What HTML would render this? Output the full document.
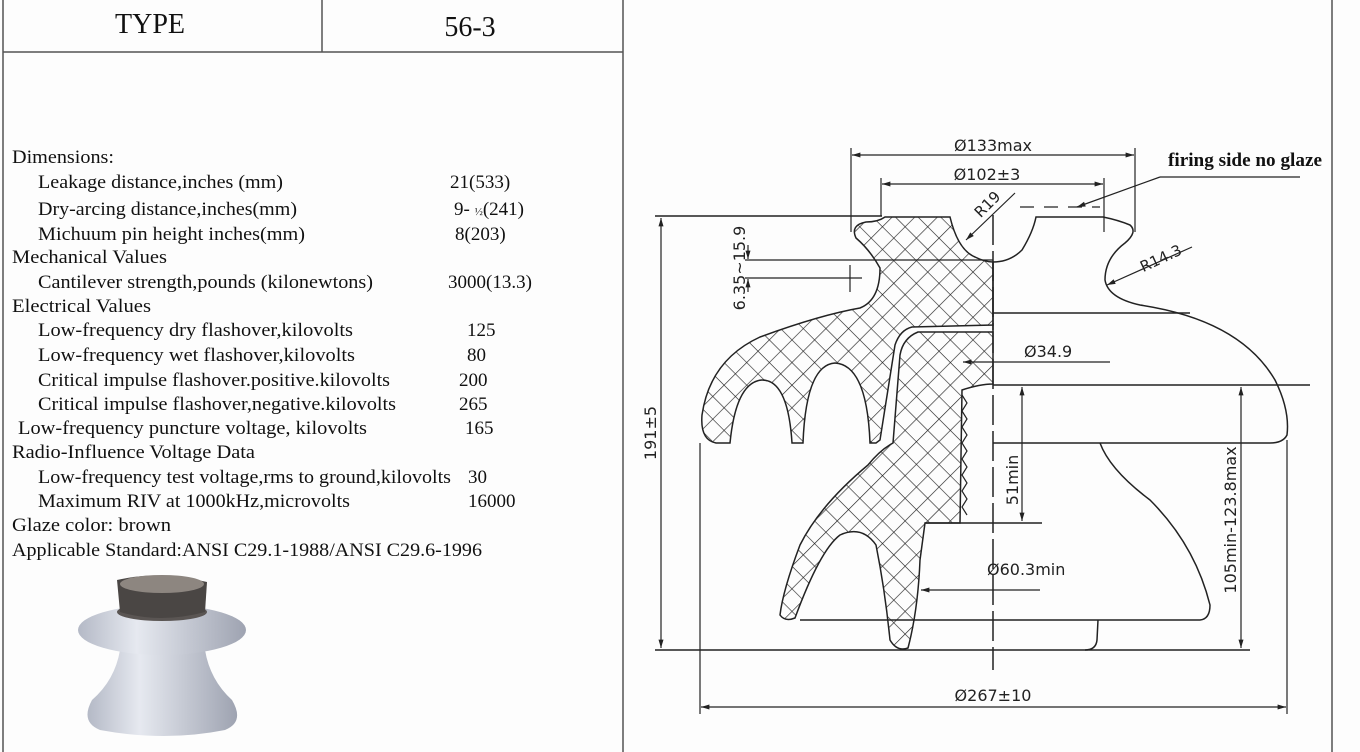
<!DOCTYPE html>
<html><head><meta charset="utf-8"><style>
html,body{margin:0;padding:0;background:#fdfdfd;}
svg{display:block;}
.t{font-family:"Liberation Serif",serif;fill:#111;}
.d{font-family:"DejaVu Sans","Liberation Sans",sans-serif;font-size:16px;fill:#222;}
</style></head><body>
<svg width="1360" height="752" viewBox="0 0 1360 752" xmlns="http://www.w3.org/2000/svg">
<defs>
<pattern id="h" width="16" height="16" patternUnits="userSpaceOnUse" patternTransform="rotate(45)">
<path d="M0 0H16M0 0V16" stroke="#222" stroke-width="1.3"/>
</pattern>
<marker id="a" viewBox="0 0 10 10" refX="10" refY="5" markerWidth="10" markerHeight="7" orient="auto-start-reverse"><path d="M0 2L10 5L0 8Z" fill="#222"/></marker>
<linearGradient id="g" x1="0" y1="0" x2="1" y2="0"><stop offset="0" stop-color="#b4b9c6"/><stop offset="0.35" stop-color="#e6e9f0"/><stop offset="1" stop-color="#9ea3b1"/></linearGradient>
</defs>
<rect width="1360" height="752" fill="#fdfdfd"/>
<g stroke="#555" stroke-width="1.5" fill="none">
<line x1="3" y1="0" x2="3" y2="752"/>
<line x1="623" y1="0" x2="623" y2="752"/>
<line x1="3" y1="52" x2="623" y2="52"/>
<line x1="322" y1="0" x2="322" y2="52"/>
<line x1="1332" y1="0" x2="1332" y2="752"/>
</g>
<text x="150" y="33" class="t" style="font-size:28px" text-anchor="middle">TYPE</text>
<text x="470" y="36" class="t" style="font-size:28px" text-anchor="middle">56-3</text>
<g class="t" style="font-size:19px" lengthAdjust="spacingAndGlyphs">
<text x="12" y="163" textLength="102" lengthAdjust="spacingAndGlyphs">Dimensions:</text>
<text x="38" y="188" textLength="245" lengthAdjust="spacingAndGlyphs">Leakage distance,inches (mm)</text>
<text x="38" y="215" textLength="259" lengthAdjust="spacingAndGlyphs">Dry-arcing distance,inches(mm)</text>
<text x="38" y="240" textLength="267" lengthAdjust="spacingAndGlyphs">Michuum pin height inches(mm)</text>
<text x="12" y="263" textLength="155" lengthAdjust="spacingAndGlyphs">Mechanical Values</text>
<text x="38" y="288" textLength="335" lengthAdjust="spacingAndGlyphs">Cantilever strength,pounds (kilonewtons)</text>
<text x="12" y="312" textLength="139" lengthAdjust="spacingAndGlyphs">Electrical Values</text>
<text x="38" y="336" textLength="315" lengthAdjust="spacingAndGlyphs">Low-frequency dry flashover,kilovolts</text>
<text x="38" y="361" textLength="317" lengthAdjust="spacingAndGlyphs">Low-frequency wet flashover,kilovolts</text>
<text x="38" y="386" textLength="352" lengthAdjust="spacingAndGlyphs">Critical impulse flashover.positive.kilovolts</text>
<text x="38" y="410" textLength="358" lengthAdjust="spacingAndGlyphs">Critical impulse flashover,negative.kilovolts</text>
<text x="18" y="434" textLength="349" lengthAdjust="spacingAndGlyphs">Low-frequency puncture voltage, kilovolts</text>
<text x="12" y="458" textLength="243" lengthAdjust="spacingAndGlyphs">Radio-Influence Voltage Data</text>
<text x="38" y="483" textLength="413" lengthAdjust="spacingAndGlyphs">Low-frequency test voltage,rms to ground,kilovolts</text>
<text x="38" y="507" textLength="312" lengthAdjust="spacingAndGlyphs">Maximum RIV at 1000kHz,microvolts</text>
<text x="12" y="531" textLength="159" lengthAdjust="spacingAndGlyphs">Glaze color:  brown</text>
<text x="12" y="556" textLength="470" lengthAdjust="spacingAndGlyphs">Applicable Standard:ANSI C29.1-1988/ANSI C29.6-1996</text>
<text x="450" y="188">21(533)</text>
<text x="454" y="215">9- <tspan style="font-size:11px">½</tspan>(241)</text>
<text x="455" y="240">8(203)</text>
<text x="448" y="288">3000(13.3)</text>
<text x="467" y="336">125</text>
<text x="467" y="361">80</text>
<text x="459" y="386">200</text>
<text x="459" y="410">265</text>
<text x="465" y="434">165</text>
<text x="468" y="483">30</text>
<text x="468" y="507">16000</text>
</g>
<!-- photo -->
<g>
<path d="M120 650 L205 650 Q210 680 232 700 Q245 722 225 730 Q165 742 100 730 Q80 722 92 700 Q115 680 120 650Z" fill="url(#g)"/>
<ellipse cx="162" cy="630" rx="84" ry="25" fill="url(#g)"/>
<ellipse cx="162" cy="612" rx="45" ry="9" fill="#5a5553"/>
<path d="M117 580 Q160 570 207 582 L205 612 Q160 624 120 612Z" fill="#4a4644"/>
<ellipse cx="162" cy="584" rx="42" ry="9" fill="#8d8680"/>
</g>
<g fill="none" stroke="#222" stroke-width="1.5">
<path fill="url(#h)" d="M885 217 L950 217 Q958 250 975 257 Q985 262 993 262 L993 325 L912 327 Q900 330 895 345 L880 440 L876 443 L870 443 Q867 365 835 363 Q806 365 803 443 L792 443 Q788 380 762 380 Q736 382 730 443 L716 443 Q700 440 702 415 Q710 360 760 337 Q820 315 860 308 Q880 300 880 268 Q870 250 856 238 Q850 225 866 222 Q878 222 885 217Z"/>
<path fill="url(#h)" d="M993 332 L918 332 Q903 338 900 355 L893 443 Q880 450 868 465 Q820 505 800 545 Q783 590 780 615 Q785 622 795 618 Q820 550 840 535 Q862 525 876 545 Q885 590 890 640 Q897 652 908 648 Q918 610 920 560 L925 523 L960 523 L962 390 Q980 384 993 384Z"/>
<path d="M962 395 l5 8 -5 8 5 8 -5 8 5 8 -5 8 5 8 -5 8 5 8 -5 8 5 8 -5 8 5 8 -5 8 5 8" stroke-width="1.2"/>
<path d="M993 262 Q1010 262 1022 250 Q1033 232 1036 217 L1103 217 Q1118 220 1130 225 Q1138 232 1125 243 Q1105 258 1105 280 Q1108 298 1140 305 Q1240 320 1275 380 Q1290 410 1287 435 Q1283 443 1270 443 L993 443"/>
<line x1="993" y1="313" x2="1190" y2="313"/>
<path d="M1100 443 Q1110 470 1150 500 Q1195 545 1210 605 Q1210 619 1200 620 L800 620"/>
<path d="M1098 620 L1097 640 Q1096 650 1085 650"/>
<line x1="655" y1="650" x2="1250" y2="650"/>
<line x1="655" y1="216" x2="882" y2="216"/>
<line x1="993" y1="385" x2="1310" y2="385"/>
<line x1="925" y1="523" x2="1042" y2="523"/>
<line x1="993" y1="330" x2="993" y2="262" />
<line x1="993" y1="215" x2="993" y2="670" stroke-dasharray="30 6"/>
<line x1="851" y1="148" x2="851" y2="232" stroke-width="1.2"/>
<line x1="1135" y1="148" x2="1135" y2="232" stroke-width="1.2"/>
<line x1="852" y1="155" x2="1134" y2="155" marker-start="url(#a)" marker-end="url(#a)" stroke-width="1.2"/>
<line x1="881" y1="178" x2="881" y2="216" stroke-width="1.2"/>
<line x1="1104" y1="178" x2="1104" y2="232" stroke-width="1.2"/>
<line x1="882" y1="184" x2="1103" y2="184" marker-start="url(#a)" marker-end="url(#a)" stroke-width="1.2"/>
<line x1="661" y1="218" x2="661" y2="648" marker-start="url(#a)" marker-end="url(#a)" stroke-width="1.2"/>
<line x1="700" y1="443" x2="700" y2="714" stroke-width="1.2"/>
<line x1="1287" y1="440" x2="1287" y2="714" stroke-width="1.2"/>
<line x1="701" y1="707" x2="1286" y2="707" marker-start="url(#a)" marker-end="url(#a)" stroke-width="1.2"/>
<line x1="1241" y1="387" x2="1241" y2="648" marker-start="url(#a)" marker-end="url(#a)" stroke-width="1.2"/>
<line x1="1022" y1="387" x2="1022" y2="521" marker-start="url(#a)" marker-end="url(#a)" stroke-width="1.2"/>
<line x1="1110" y1="362" x2="963" y2="362" marker-end="url(#a)" stroke-width="1.2"/>
<line x1="1040" y1="590" x2="921" y2="590" marker-end="url(#a)" stroke-width="1.2"/>
<line x1="745" y1="260" x2="993" y2="260" stroke-width="1.2"/>
<line x1="745" y1="278" x2="862" y2="278" stroke-width="1.2"/>
<line x1="850" y1="265" x2="850" y2="292" stroke-width="1.2"/>
<line x1="748" y1="245" x2="748" y2="259" marker-end="url(#a)" stroke-width="1.2"/>
<line x1="748" y1="292" x2="748" y2="279" marker-end="url(#a)" stroke-width="1.2"/>
<line x1="1015" y1="193" x2="966" y2="240" marker-end="url(#a)" stroke-width="1.2"/>
<line x1="1192" y1="247" x2="1107" y2="285" marker-end="url(#a)" stroke-width="1.2"/>
<line x1="1300" y1="177" x2="1160" y2="177" stroke-width="1.2"/>
<line x1="1160" y1="177" x2="1077" y2="207" marker-end="url(#a)" stroke-width="1.2"/>
<line x1="1020" y1="207" x2="1100" y2="207" stroke-dasharray="14 10" stroke-width="1.2"/>
</g>
<g class="d">
<text x="993" y="151" text-anchor="middle">Ø133max</text>
<text x="987" y="180" text-anchor="middle">Ø102±3</text>
<text x="1024" y="357">Ø34.9</text>
<text x="987" y="575">Ø60.3min</text>
<text x="993" y="701" text-anchor="middle">Ø267±10</text>
<text transform="translate(656 433) rotate(-90)" text-anchor="middle">191±5</text>
<text transform="translate(1236 520) rotate(-90)" text-anchor="middle">105min-123.8max</text>
<text transform="translate(1018 480) rotate(-90)" text-anchor="middle">51min</text>
<text transform="translate(745 268) rotate(-90)" text-anchor="middle">6.35~15.9</text>
<text transform="translate(991 208) rotate(-45)" text-anchor="middle" style="font-size:15px">R19</text>
<text transform="translate(1163 263) rotate(-25)" text-anchor="middle" style="font-size:15px">R14.3</text>
</g>
<text x="1168" y="166" class="t" style="font-size:19px" font-weight="bold" textLength="154" lengthAdjust="spacingAndGlyphs">firing side no glaze</text>
</svg>
</body></html>
